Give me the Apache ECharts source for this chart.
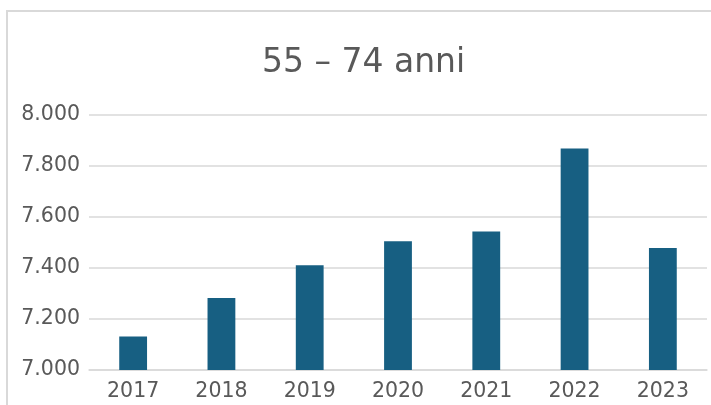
<!DOCTYPE html>
<html>
<head>
<meta charset="utf-8">
<script src="https://cdn.jsdelivr.net/npm/echarts@6/dist/echarts.min.js"></script>
<style>
  html, body { margin: 0; padding: 0; background: #fff; }
  #chart { width: 711px; height: 405px; }
</style>
</head>
<body>
<div id="chart"></div>
<script>
// anni e valori
var anni = ['2017', '2018', '2019', '2020', '2021', '2022', '2023'];
var valori = [7131, 7282, 7411, 7505, 7543, 7869, 7478];
var titolo = '55 \u2013 74 anni';

var myChart = echarts.init(document.getElementById('chart'));

// separatore delle migliaia all'italiana
function formatta(v) {
  return String(v).replace(/\B(?=(\d{3})+(?!\d))/g, '.');
}

var option = {
  backgroundColor: '#fff',
  animation: false,
  textStyle: { fontFamily: 'DejaVu Sans' },
  title: {
    text: titolo,
    left: 262,
    top: 47,
    padding: 0,
    textStyle: { color: '#595959', fontSize: 33, fontWeight: 'normal', fontFamily: 'DejaVu Sans' }
  },
  graphic: [{
    type: 'rect',
    shape: { x: 7, y: 11, width: 800, height: 500 },
    style: { fill: 'none', stroke: '#d9d9d9', lineWidth: 2 },
    silent: true
  }],
  grid: { left: 89, right: 4, top: 115, bottom: 35 },
  xAxis: {
    type: 'category',
    data: anni,
    axisTick: { show: false },
    axisLine: { show: true, lineStyle: { color: '#d9d9d9', width: 1.5 } },
    axisLabel: { color: '#595959', fontSize: 20.5, margin: 11 }
  },
  yAxis: {
    type: 'value',
    min: 7000,
    max: 8000,
    interval: 200,
    axisLine: { show: false },
    axisTick: { show: false },
    splitLine: { lineStyle: { color: '#d9d9d9', width: 1.5 } },
    axisLabel: { color: '#595959', fontSize: 20.5, margin: 9, formatter: formatta }
  },
  series: [{
    type: 'bar',
    data: valori,
    barWidth: '31.5%',
    itemStyle: { color: '#175f82' }
  }]
};

myChart.setOption(option);
</script>
</body>
</html>
